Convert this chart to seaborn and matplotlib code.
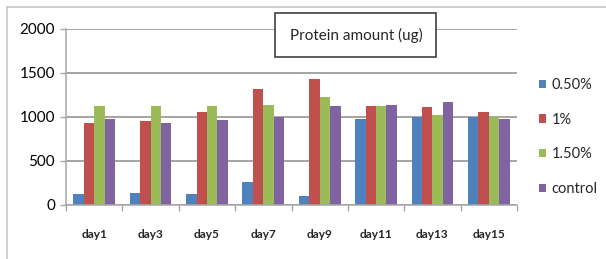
import seaborn as sns
import numpy as np
import matplotlib.pyplot as plt
import pandas as pd
from matplotlib.lines import Line2D
from matplotlib.patches import Rectangle

" DATA "
days = ['day1', 'day3', 'day5', 'day7', 'day9', 'day11', 'day13', 'day15']
groups = ['0.50%', '1%', '1.50%', 'control']
conc_050 = [121, 136, 121, 263, 105, 972, 998, 998]
conc_1 = [927, 957, 1051, 1314, 1424, 1119, 1111, 1059]
conc_150 = [1127, 1119, 1119, 1133, 1224, 1119, 1017, 998]
control = [972, 927, 964, 994, 1119, 1130, 1164, 972]
colors = ['#4F81BD', '#C0504D', '#9BBB59', '#8064A2']

sns.set_theme(style='white')
plt.rcParams['font.family'] = ['Lato', 'DejaVu Sans']

df = pd.DataFrame({
    'day': days * 4,
    'group': [g for g in groups for _ in days],
    'amount': conc_050 + conc_1 + conc_150 + control,
})

fig = plt.figure(figsize=(6.06, 2.59), dpi=100)
ax = fig.add_axes([66 / 606, 1 - 205 / 259, (517 - 66) / 606, (205 - 28.5) / 259])

sns.barplot(data=df, x='day', y='amount', hue='group', hue_order=groups,
            palette=colors, width=0.74, gap=0, saturation=1, linewidth=0,
            ax=ax, legend=True)

ax.set_ylim(0, 2000)
ax.set_xlim(-0.5, len(days) - 0.5)
ax.set_yticks([0, 500, 1000, 1500, 2000])
ax.set_xlabel('')
ax.set_ylabel('')
ax.yaxis.grid(True, color='#8c8c8c', linewidth=1.1)
ax.set_axisbelow(True)
for s in ['top', 'right']:
    ax.spines[s].set_visible(False)
for s in ['left', 'bottom']:
    ax.spines[s].set_color('#a6a6a6')
    ax.spines[s].set_linewidth(1.1)

ax.tick_params(axis='y', labelsize=11, length=4, width=1, color='#a6a6a6',
               direction='out', left=True, pad=4, labelcolor='black')
ax.set_xticks(np.arange(-0.5, len(days), 1), minor=True)
ax.tick_params(axis='x', which='minor', length=4, width=1, color='#a6a6a6',
               direction='out', bottom=True)
ax.tick_params(axis='x', which='major', length=0, pad=17, labelsize=8.5)
for lbl in ax.get_xticklabels():
    lbl.set_fontweight('bold')

handles, labels = ax.get_legend_handles_labels()
ax.legend(handles, labels, loc='upper left', bbox_to_anchor=(539 / 606, 1 - 78 / 259),
          bbox_transform=fig.transFigure, frameon=False, fontsize=10.5,
          handlelength=0.5, handleheight=0.5, handletextpad=0.35, labelspacing=1.42,
          borderaxespad=0, borderpad=0)

# title box
fig.patches.append(Rectangle((275 / 606, 1 - 57 / 259), 161 / 606, 44 / 259,
                             transform=fig.transFigure, fc='white',
                             ec='#404040', lw=1.2, zorder=5))
fig.text(356 / 606, 1 - 35 / 259, 'Protein amount (ug)', ha='center', va='center',
         fontsize=11, zorder=6)

# outer chart frame (top and left edges)
fig.lines.append(Line2D([7 / 606, 7 / 606], [0.0, 1 - 7 / 259],
                        transform=fig.transFigure, color='#c8c8c8', lw=1.2))
fig.lines.append(Line2D([7 / 606, 1.0], [1 - 7 / 259, 1 - 7 / 259],
                        transform=fig.transFigure, color='#c8c8c8', lw=1.2))

plt.savefig('out.png', dpi=100)
